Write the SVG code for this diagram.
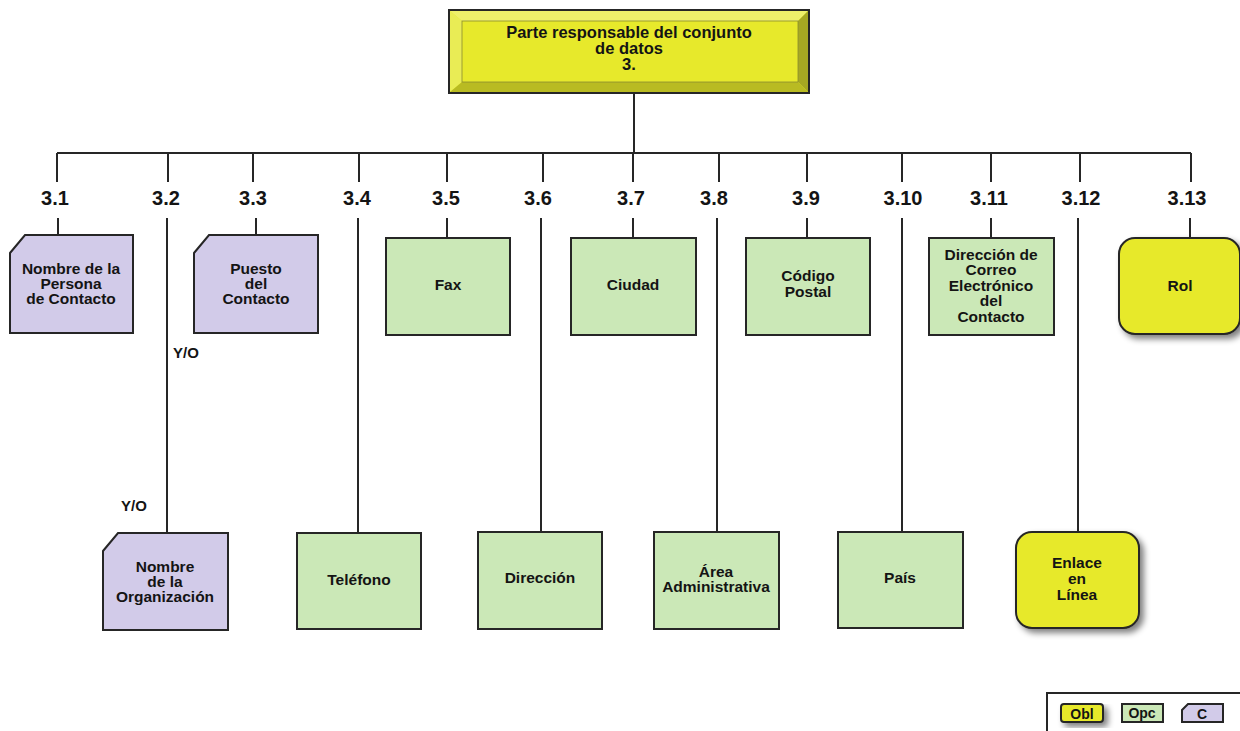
<svg xmlns="http://www.w3.org/2000/svg" width="1240" height="731" viewBox="0 0 1240 731">
<defs>
<filter id="sh" x="-20%" y="-20%" width="150%" height="150%">
<feGaussianBlur in="SourceAlpha" stdDeviation="3"/>
<feOffset dx="4" dy="4" result="b"/>
<feComponentTransfer><feFuncA type="linear" slope="0.5"/></feComponentTransfer>
<feMerge><feMergeNode/><feMergeNode in="SourceGraphic"/></feMerge>
</filter>
<style>
text{font-family:"Liberation Sans",Arial,sans-serif;font-weight:bold;fill:#141414;text-anchor:middle}
.lbl{font-size:20px}
.nt{font-size:15.5px}
.yo{font-size:15px;text-anchor:start}
.c{fill:#d2cbe9;stroke:#262626;stroke-width:2}
.o{fill:#cbe8b7;stroke:#262626;stroke-width:2}
.m{fill:#e7e92b;stroke:#262626;stroke-width:2}
.ln{stroke:#262626;stroke-width:2;fill:none}
</style>
</defs>
<rect width="1240" height="731" fill="#fff"/>

<g id="connectors">
<path class="ln" d="M634,93V153M57,153H1191"/>
<path class="ln" d="M57,153V182M168,153V182M253,153V182M359,153V182M447,153V182M543,153V182M633,153V182M719,153V182M807,153V182M902,153V182M991,153V182M1080,153V182M1191,153V182"/>
<path class="ln" d="M58,218V235M256,218V235M447,218V238M633,218V238M807,218V238M991,218V238M1190,218V238"/>
<path class="ln" d="M167,218V533M358,218V533M541,218V532M717,218V532M902,218V532M1078,218V532"/>
<text class="yo" x="173" y="358">Y/O</text>
<text class="yo" x="121" y="511">Y/O</text>
</g>

<g id="root">
<rect x="449" y="10" width="360" height="83" fill="#e7e92b" stroke="#262626" stroke-width="2"/>
<polygon points="450,11 808,11 798,21 462,21" fill="#eef06a"/>
<polygon points="450,11 462,21 462,82 450,92" fill="#e9ec55"/>
<polygon points="808,11 808,92 798,82 798,21" fill="#a6a822"/>
<polygon points="450,92 462,82 798,82 808,92" fill="#b9bb22"/>
<rect x="462" y="21" width="336" height="61" fill="#e7e92b" stroke="#8a8a30" stroke-width="0.8"/>
<text x="629" y="38" style="font-size:16.5px">Parte responsable  del conjunto</text>
<text x="629" y="54" style="font-size:16.5px">de datos</text>
<text x="629" y="70" style="font-size:16.5px">3.</text>
</g>

<g id="labels">
<text class="lbl" x="55" y="205">3.1</text>
<text class="lbl" x="166" y="205">3.2</text>
<text class="lbl" x="253" y="205">3.3</text>
<text class="lbl" x="357" y="205">3.4</text>
<text class="lbl" x="446" y="205">3.5</text>
<text class="lbl" x="538" y="205">3.6</text>
<text class="lbl" x="631" y="205">3.7</text>
<text class="lbl" x="714" y="205">3.8</text>
<text class="lbl" x="806" y="205">3.9</text>
<text class="lbl" x="903" y="205">3.10</text>
<text class="lbl" x="989" y="205">3.11</text>
<text class="lbl" x="1081" y="205">3.12</text>
<text class="lbl" x="1187" y="205">3.13</text>
</g>

<g id="n3-1">
<path class="c" d="M10,253L25,235H133V333H10Z"/>
<text class="nt" x="71" y="274">Nombre de la</text>
<text class="nt" x="71" y="289">Persona</text>
<text class="nt" x="71" y="304">de Contacto</text>
</g>
<g id="n3-2">
<path class="c" d="M103,551L118,533H228V630H103Z"/>
<text class="nt" x="165" y="572">Nombre</text>
<text class="nt" x="165" y="587">de la</text>
<text class="nt" x="165" y="602">Organización</text>
</g>
<g id="n3-3">
<path class="c" d="M194,253L209,235H318V333H194Z"/>
<text class="nt" x="256" y="274">Puesto</text>
<text class="nt" x="256" y="289">del</text>
<text class="nt" x="256" y="304">Contacto</text>
</g>
<g id="n3-4">
<rect class="o" x="297" y="533" width="124" height="96"/>
<text class="nt" x="359" y="585">Teléfono</text>
</g>
<g id="n3-5">
<rect class="o" x="386" y="238" width="124" height="97"/>
<text class="nt" x="448" y="290">Fax</text>
</g>
<g id="n3-6">
<rect class="o" x="478" y="532" width="124" height="97"/>
<text class="nt" x="540" y="583">Dirección</text>
</g>
<g id="n3-7">
<rect class="o" x="571" y="238" width="125" height="97"/>
<text class="nt" x="633" y="290">Ciudad</text>
</g>
<g id="n3-8">
<rect class="o" x="654" y="532" width="125" height="97"/>
<text class="nt" x="716" y="577">Área</text>
<text class="nt" x="716" y="592">Administrativa</text>
</g>
<g id="n3-9">
<rect class="o" x="746" y="238" width="124" height="97"/>
<text class="nt" x="808" y="281">Código</text>
<text class="nt" x="808" y="297">Postal</text>
</g>
<g id="n3-10">
<rect class="o" x="838" y="532" width="125" height="96"/>
<text class="nt" x="900" y="583">País</text>
</g>
<g id="n3-11">
<rect class="o" x="929" y="238" width="125" height="97"/>
<text class="nt" x="991" y="260">Dirección de</text>
<text class="nt" x="991" y="275">Correo</text>
<text class="nt" x="991" y="291">Electrónico</text>
<text class="nt" x="991" y="306">del</text>
<text class="nt" x="991" y="322">Contacto</text>
</g>
<g id="n3-12">
<rect class="m" x="1016" y="532" width="123" height="96" rx="16" filter="url(#sh)"/>
<text class="nt" x="1077" y="568">Enlace</text>
<text class="nt" x="1077" y="584">en</text>
<text class="nt" x="1077" y="600">Línea</text>
</g>
<g id="n3-13">
<rect class="m" x="1119" y="238" width="121" height="96" rx="16" filter="url(#sh)"/>
<text class="nt" x="1180" y="291">Rol</text>
</g>

<g id="legend">
<rect x="1047" y="693" width="200" height="50" fill="#fff" stroke="#262626" stroke-width="2"/>
<rect class="m" x="1061" y="704" width="42" height="18" rx="3" filter="url(#sh)"/>
<text x="1082" y="719" style="font-size:14px">Obl</text>
<rect class="o" x="1122" y="704" width="41" height="18"/>
<text x="1142" y="718" style="font-size:14px">Opc</text>
<path class="c" d="M1182,710L1188,704H1223V722H1182Z"/>
<text x="1202" y="719" style="font-size:14px">C</text>
</g>
</svg>
